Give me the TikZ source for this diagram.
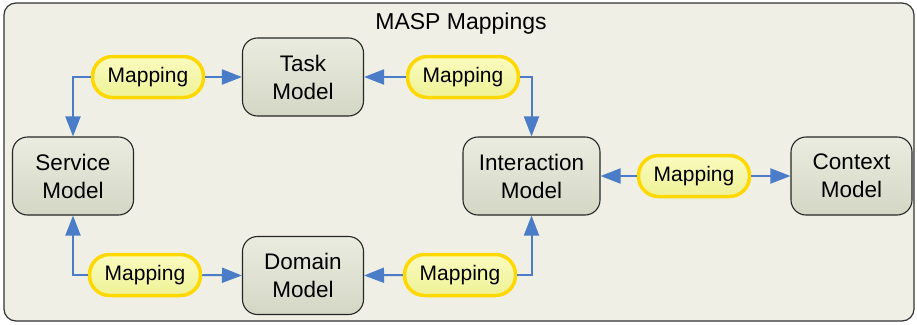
\documentclass[tikz,border=0pt]{standalone}
\usepackage{fontspec}
\setmainfont{Liberation Sans}
\usetikzlibrary{arrows.meta}
\definecolor{framefill}{HTML}{EFEFE6}
\definecolor{arrowblue}{HTML}{4A7CC7}
\definecolor{pillborder}{HTML}{FFD800}
\tikzset{
  modelbox/.style={draw=black!85, line width=1.1pt, rounded corners=15pt,
    top color={rgb,255:red,234;green,236;blue,224}, bottom color={rgb,255:red,212;green,215;blue,197},
    minimum width=121pt, minimum height=78pt, align=center,
    font=\fontsize{22.5}{28}\selectfont, inner sep=0pt},
  pill/.style={draw=pillborder, line width=3.5pt, rounded corners=20pt,
    top color={rgb,255:red,250;green,251;blue,190}, bottom color={rgb,255:red,238;green,242;blue,150},
    minimum width=111pt, minimum height=41pt, inner sep=0pt,
    font=\fontsize{21}{24}\selectfont},
  arr/.style={draw=arrowblue, line width=2pt, -{Triangle[length=20pt,width=15pt]}, arrowblue}
}
\begin{document}
\begin{tikzpicture}[x=1pt,y=-1pt]
\useasboundingbox (0,0) rectangle (917,324);
\draw[black!80, line width=1.2pt, fill=framefill, rounded corners=12pt] (4,3) rectangle (914,321);
\node[font=\fontsize{23}{26}\selectfont] (title) at (461,24) {MASP Mappings};

\node[modelbox] (task) at (303,77) {Task\\Model};
\node[modelbox] (service) at (73,176) {Service\\Model};
\node[modelbox] (domain) at (303,275.5) {Domain\\Model};
\node[modelbox, minimum width=137pt] (inter) at (531.5,176) {Interaction\\Model};
\node[modelbox] (context) at (851.5,176) {Context\\Model};

\node[pill] (m1) at (148,77) {Mapping};
\node[pill] (m2) at (463,77) {Mapping};
\node[pill] (m3) at (145,275) {Mapping};
\node[pill] (m4) at (460,275) {Mapping};
\node[pill] (m5) at (694,176) {Mapping};

\draw[arr] (m1.west) -| (service.north);
\draw[arr] (m1.east) -- (task.west);
\draw[arr] (m2.west) -- (task.east);
\draw[arr] (m2.east) -| (inter.north);
\draw[arr] (m3.west) -| (service.south);
\draw[arr] (m3.east) -- (domain.west);
\draw[arr] (m4.west) -- (domain.east);
\draw[arr] (m4.east) -| (inter.south);
\draw[arr] (m5.west) -- (inter.east);
\draw[arr] (m5.east) -- (context.west);
\end{tikzpicture}
\end{document}
